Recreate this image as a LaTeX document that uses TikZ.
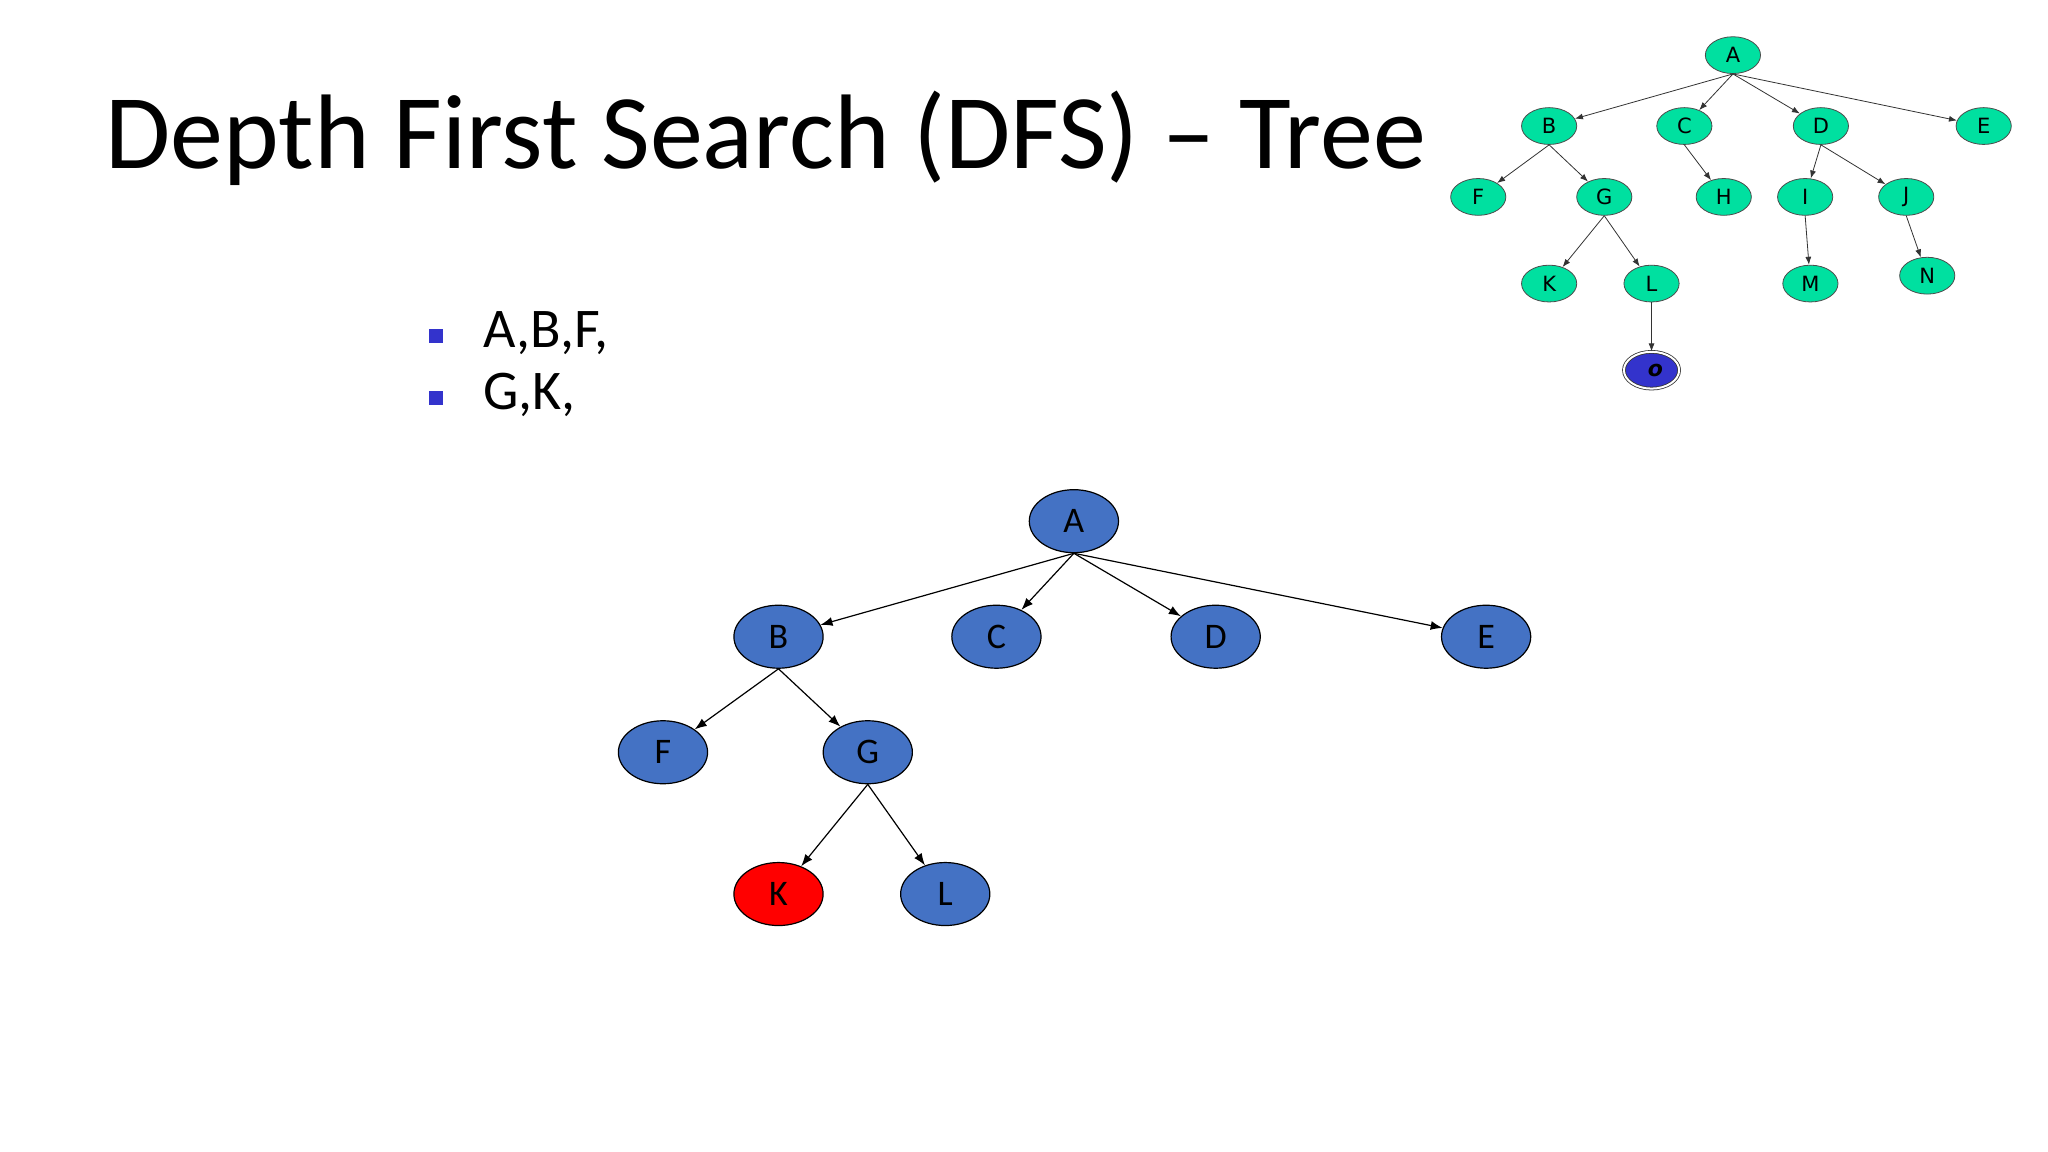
\documentclass[tikz,border=0pt]{standalone}
\usepackage{fontspec}
\setmainfont{Carlito}
\newfontfamily\smallf{DejaVu Sans}
\usetikzlibrary{shapes.geometric,arrows.meta}
\definecolor{mblue}{HTML}{4472C4}
\definecolor{mgreen}{HTML}{00E0A0}
\definecolor{oblue}{HTML}{3333CC}
\begin{document}
\begin{tikzpicture}[x=0.6564pt,y=-0.6564pt,
  big/.style={ellipse,draw=black,line width=0.6pt,fill=mblue,minimum width=44.6pt,minimum height=31.5pt,inner sep=0pt,font=\fontsize{18}{20}\selectfont},
  sm/.style={ellipse,draw=black!70,line width=0.4pt,fill=mgreen,minimum width=27.6pt,minimum height=18.4pt,inner sep=0pt,font=\smallf\fontsize{10.5}{12}\selectfont},
  bedge/.style={-{Latex[length=6pt,width=4.5pt]},line width=0.6pt},
  sedge/.style={-{Latex[length=4pt,width=3pt]},line width=0.4pt,draw=black!80},
  bul/.style={fill=oblue,minimum size=7pt,inner sep=0pt}]
\useasboundingbox[fill=white] (0,0) rectangle (1560,877.5);
\node[anchor=base west,font=\fontsize{53}{60}\selectfont,inner sep=0pt] (title) at (80,128) {Depth First Search (DFS) -- Tree};
\node[bul] (b1) at (332,256) {};
\node[bul] (b2) at (332,303) {};
\node[anchor=west,font=\fontsize{28}{32}\selectfont,inner sep=0pt] (t1) at (368,254) {A,B,F,};
\node[anchor=west,font=\fontsize{28}{32}\selectfont,inner sep=0pt] (t2) at (368,301) {G,K,};
% main tree
\node[big] (A) at (818,397) {A};
\node[big] (B) at (593,485) {B};
\node[big] (C) at (759,485) {C};
\node[big] (D) at (926,485) {D};
\node[big] (E) at (1132,485) {E};
\node[big] (F) at (505,573) {F};
\node[big] (G) at (661,573) {G};
\node[big,fill=red] (K) at (593,681) {K};
\node[big] (L) at (720,681) {L};
\foreach \t in {B,C,D,E} \draw[bedge] (A.south) -- (\t);
\foreach \t in {F,G} \draw[bedge] (B.south) -- (\t);
\foreach \t in {K,L} \draw[bedge] (G.south) -- (\t);
% small tree
\node[sm] (sA) at (1320,42) {A};
\node[sm] (sB) at (1180,96) {B};
\node[sm] (sC) at (1283,96) {C};
\node[sm] (sD) at (1387,96) {D};
\node[sm] (sE) at (1511,96) {E};
\node[sm] (sF) at (1126,150) {F};
\node[sm] (sG) at (1222,150) {G};
\node[sm] (sH) at (1313,150) {H};
\node[sm] (sI) at (1375,150) {I};
\node[sm] (sJ) at (1452,150) {J};
\node[sm] (sK) at (1180,216) {K};
\node[sm] (sL) at (1258,216) {L};
\node[sm] (sM) at (1379,216) {M};
\node[sm] (sN) at (1468,210) {N};
\node[sm,fill=oblue,double=white,double distance=1pt,draw=black!80,font=\smallf\bfseries\itshape\fontsize{11}{12}\selectfont] (sO) at (1258,282) {\hspace{4pt}o};
\foreach \t in {sB,sC,sD,sE} \draw[sedge] (sA.south) -- (\t);
\foreach \t in {sF,sG} \draw[sedge] (sB.south) -- (\t);
\draw[sedge] (sC.south) -- (sH);
\foreach \t in {sI,sJ} \draw[sedge] (sD.south) -- (\t);
\foreach \t in {sK,sL} \draw[sedge] (sG.south) -- (\t);
\draw[sedge] (sI.south) -- (sM);
\draw[sedge] (sJ.south) -- (sN);
\draw[sedge] (sL.south) -- (sO);
\end{tikzpicture}
\end{document}
